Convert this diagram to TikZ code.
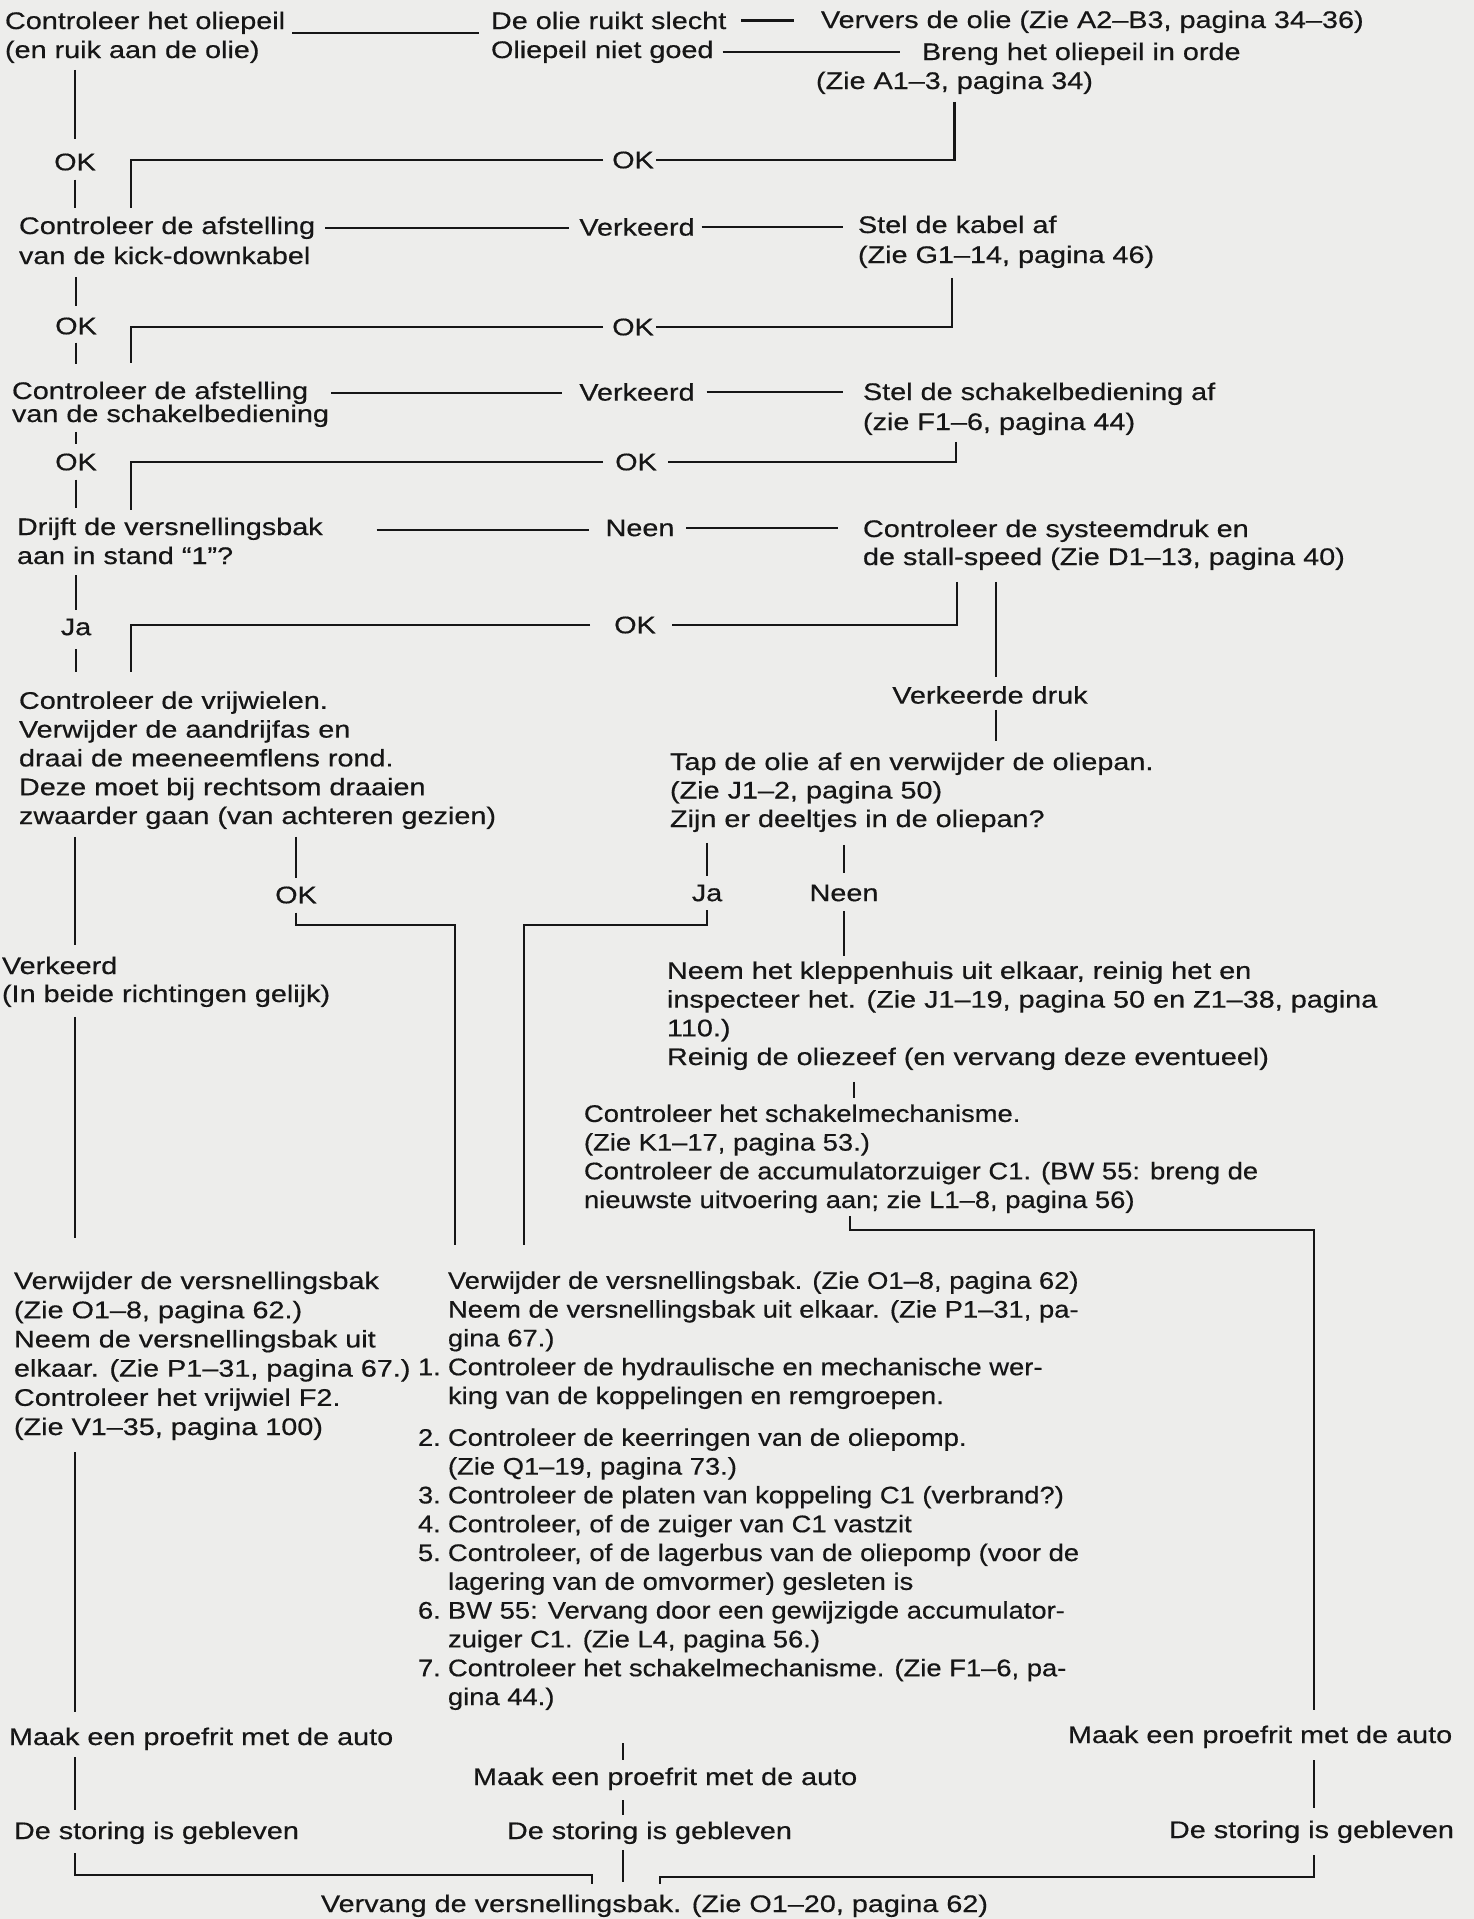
\documentclass[tikz,border=0pt]{standalone}
\usepackage{fontspec}
\setmainfont{Liberation Sans}[FakeStretch=1.2,FakeBold=0.5]
\newfontfamily\condensedfont{Liberation Sans}[FakeStretch=1.14,FakeBold=0.5]
\usetikzlibrary{calc}
\definecolor{paper}{RGB}{237,237,235}
\definecolor{ink}{RGB}{22,22,22}
\tikzset{
  txt/.style={anchor=base west,inner sep=0pt,outer sep=0pt,align=left,text=ink,
    font=\fontsize{12pt}{#1}\selectfont},
  txt/.default=14.5pt,
  ctxt/.style={txt=#1,font=\condensedfont\fontsize{12pt}{#1}\selectfont},
  ctxt/.default=14.4pt,
  lbl/.style={inner sep=0pt,outer sep=0pt,text=ink,font=\fontsize{12pt}{14.5pt}\selectfont},
  ln/.style={draw=ink,line width=1.1pt},
}
\begin{document}
\begin{tikzpicture}[x=0.5pt,y=-0.5pt]
\fill[paper] (0,0) rectangle (1474,1919);
% texts (multi-line nodes sit on their last line)
\node[txt] (peil) at (5,58) {Controleer het oliepeil\\(en ruik aan de olie)};
\node[txt] (ruikt) at (491,29) {De olie ruikt slecht};
\node[txt] (peilng) at (491,58) {Oliepeil niet goed};
\node[txt] (ververs) at (821,28) {Ververs de olie (Zie A2–B3, pagina 34–36)};
\node[txt] (breng) at (922,60) {Breng het oliepeil in orde};
\node[txt] (brengref) at (816,89) {(Zie A1–3, pagina 34)};
\node[lbl] (okA) at (75,162) {OK};
\node[lbl] (ok1) at (633,160) {OK};
\node[txt=15pt] (afst1) at (19,264) {Controleer de afstelling\\van de kick-downkabel};
\node[lbl] (vk1) at (637,227) {Verkeerd};
\node[txt=15pt] (stel1) at (858,263) {Stel de kabel af\\(Zie G1–14, pagina 46)};
\node[lbl] (okB) at (76,326) {OK};
\node[lbl] (ok2) at (633,327) {OK};
\node[txt=11.5pt] (afst2) at (12,422) {Controleer de afstelling\\van de schakelbediening};
\node[lbl] (vk2) at (637,392) {Verkeerd};
\node[txt=15pt] (stel2) at (863,430) {Stel de schakelbediening af\\(zie F1–6, pagina 44)};
\node[lbl] (okC) at (76,462) {OK};
\node[lbl] (ok3) at (636,462) {OK};
\node[txt] (drijft) at (17,564) {Drijft de versnellingsbak\\aan in stand “1”?};
\node[lbl] (nn1) at (640,528) {Neen};
\node[txt=14pt] (sys) at (863,565) {Controleer de systeemdruk en\\de stall-speed (Zie D1–13, pagina 40)};
\node[lbl] (jaA) at (76,627) {Ja};
\node[lbl] (ok4) at (635,625) {OK};
\node[lbl] (vdruk) at (990,695) {Verkeerde druk};
\node[txt=14.4pt] (vrij) at (19,824) {Controleer de vrijwielen.\\Verwijder de aandrijfas en\\draai de meeneemflens rond.\\Deze moet bij rechtsom draaien\\zwaarder gaan (van achteren gezien)};
\node[txt=14.25pt] (tap) at (670,827) {Tap de olie af en verwijder de oliepan.\\(Zie J1–2, pagina 50)\\Zijn er deeltjes in de oliepan?};
\node[lbl] (ok5) at (296,895) {OK};
\node[lbl] (ja2) at (707,893) {Ja};
\node[lbl] (nn2) at (844,893) {Neen};
\node[txt=14pt] (verk) at (2,1002) {Verkeerd\\(In beide richtingen gelijk)};
\node[txt=14.35pt] (klep) at (667,1065) {Neem het kleppenhuis uit elkaar, reinig het en\\inspecteer het. (Zie J1–19, pagina 50 en Z1–38, pagina\\110.)\\Reinig de oliezeef (en vervang deze eventueel)};
\node[ctxt=14.35pt] (schak) at (584,1208) {Controleer het schakelmechanisme.\\(Zie K1–17, pagina 53.)\\Controleer de accumulatorzuiger C1. (BW 55: breng de\\nieuwste uitvoering aan; zie L1–8, pagina 56)};
\node[txt=14.6pt] (verw) at (14,1435) {Verwijder de versnellingsbak\\(Zie O1–8, pagina 62.)\\Neem de versnellingsbak uit\\elkaar. (Zie P1–31, pagina 67.)\\Controleer het vrijwiel F2.\\(Zie V1–35, pagina 100)};
\node[ctxt] (mid) at (418,1705) {%
\hspace*{15pt}Verwijder de versnellingsbak. (Zie O1–8, pagina 62)\\
\hspace*{15pt}Neem de versnellingsbak uit elkaar. (Zie P1–31, pa-\\
\hspace*{15pt}gina 67.)\\
\makebox[15pt][l]{1.}Controleer de hydraulische en mechanische wer-\\
\hspace*{15pt}king van de koppelingen en remgroepen.\\[6.5pt]
\makebox[15pt][l]{2.}Controleer de keerringen van de oliepomp.\\
\hspace*{15pt}(Zie Q1–19, pagina 73.)\\
\makebox[15pt][l]{3.}Controleer de platen van koppeling C1 (verbrand?)\\
\makebox[15pt][l]{4.}Controleer, of de zuiger van C1 vastzit\\
\makebox[15pt][l]{5.}Controleer, of de lagerbus van de oliepomp (voor de\\
\hspace*{15pt}lagering van de omvormer) gesleten is\\
\makebox[15pt][l]{6.}BW 55: Vervang door een gewijzigde accumulator-\\
\hspace*{15pt}zuiger C1. (Zie L4, pagina 56.)\\
\makebox[15pt][l]{7.}Controleer het schakelmechanisme. (Zie F1–6, pa-\\
\hspace*{15pt}gina 44.)};
\node[txt] (proefL) at (9,1745) {Maak een proefrit met de auto};
\node[txt] (storL) at (14,1839) {De storing is gebleven};
\node[txt] (proefM) at (473,1785) {Maak een proefrit met de auto};
\node[txt] (storM) at (507,1839) {De storing is gebleven};
\node[txt] (proefR) at (1068,1743) {Maak een proefrit met de auto};
\node[txt] (storR) at (1169,1838) {De storing is gebleven};
\node[txt] (vervang) at (321,1912) {Vervang de versnellingsbak. (Zie O1–20, pagina 62)};
% top row
\coordinate (j1) at ($(peil.north east)+(7,21.5)$);
\draw[ln,shorten >=6pt] (j1) -- (j1 -| ruikt.west);
\draw[ln,shorten <=7.5pt,shorten >=13.5pt] (ruikt.east) -- (ruikt.east -| ververs.west);
\draw[ln,shorten <=4.5pt,shorten >=11pt] (peilng.east) -- (peilng.east -| breng.west);
\draw[ln,shorten <=4pt,shorten >=1pt] (brengref.south) |- (ok1.east);
\draw[ln,shorten <=4.5pt] (ok1.west) -| ($(afst1.north west)+(112,-8.5)$);
% left trunk
\draw[ln,shorten <=3.5pt,shorten >=7.5pt] (okA.north |- peil.south) -- (okA.north);
\draw[ln,shorten <=4.5pt,shorten >=4.5pt] (okA.south) -- (okA.south |- afst1.north);
\draw[ln,shorten <=6.5pt,shorten >=6pt] (okB.north |- afst1.south) -- (okB.north);
\draw[ln,shorten <=4pt,shorten >=9pt] (okB.south) -- (okB.south |- afst2.north);
\draw[ln,shorten <=2.5pt,shorten >=5pt] (okC.north |- afst2.south) -- (okC.north);
\draw[ln,shorten <=4.5pt,shorten >=4.75pt] (okC.south) -- (okC.south |- drijft.north);
\draw[ln,shorten <=5.5pt,shorten >=4.2pt] (jaA.north |- drijft.south) -- (jaA.north);
\draw[ln,shorten <=7pt,shorten >=9.75pt] (jaA.south) -- (jaA.south |- vrij.north);
\draw[ln,shorten <=4pt,shorten >=5.75pt] (okA.south |- vrij.south) -- (okA.south |- verk.north);
\draw[ln,shorten <=5pt,shorten >=16.75pt] (okA.south |- verk.south) -- (okA.south |- verw.north);
\draw[ln,shorten <=6pt,shorten >=7.75pt] (okA.south |- verw.south) -- (okA.south |- proefL.north);
\draw[ln,shorten <=3.5pt,shorten >=5.75pt] (okA.south |- proefL.south) -- (okA.south |- storL.north);
\draw[ln,shorten <=4.5pt] (okA.south |- storL.south) |- ($(vervang.north west)+(271,-19.5)$) -- ($(vervang.north west)+(271,-10.5)$);
% kick-down row
\coordinate (j2) at ($(afst1.north east)+(10,11.5)$);
\draw[ln,shorten >=5pt] (j2) -- (j2 -| vk1.west);
\draw[ln,shorten <=3.5pt,shorten >=7.5pt] (vk1.east) -- (vk1.east -| stel1.west);
\coordinate (j3) at ($(stel1.south west)+(94,10)$);
\draw[ln,shorten >=1pt] (j3) |- (ok2.east);
\draw[ln,shorten <=4.5pt] (ok2.west) -| ($(afst2.north west)+(119,-18.5)$);
% schakelbediening row
\coordinate (j4) at ($(afst2.north east)+(2,11.5)$);
\draw[ln,shorten >=8.5pt] (j4) -- (j4 -| vk2.west);
\draw[ln,shorten <=6pt,shorten >=10pt] (vk2.east) -- (vk2.east -| stel2.west);
\coordinate (j5) at ($(stel2.south west)+(93,7)$);
\draw[ln,shorten >=5.5pt] (j5) |- (ok3.east);
\draw[ln,shorten <=6pt] (ok3.west) -| ($(drijft.north west)+(114,-7.5)$);
% stand 1 row
\coordinate (j6) at ($(drijft.north east)+(54,12.5)$);
\draw[ln,shorten >=8.5pt] (j6) -- (j6 -| nn1.west);
\draw[ln,shorten <=6pt,shorten >=12.5pt] (nn1.east) -- (nn1.east -| sys.west);
\coordinate (j7) at ($(sys.south west)+(94,12)$);
\draw[ln,shorten >=8pt] (j7) |- (ok4.east);
\draw[ln,shorten <=12pt] (ok4.west) -| ($(vrij.north west)+(112,-19.5)$);
\coordinate (j8) at ($(sys.south west)+(133,12)$);
\draw[ln,shorten >=4.5pt] (j8) -- (j8 |- vdruk.north);
\draw[ln,shorten <=3pt,shorten >=6pt] (j8 |- vdruk.south) -- (j8 |- tap.north);
% middle part
\draw[ln,shorten <=4pt,shorten >=4.5pt] (ok5.north |- vrij.south) -- (ok5.north);
\coordinate (j9) at ($(mid.north west)+(37,-346.5)$);
\draw[ln,shorten <=4.5pt,shorten >=13pt] (ok5.south) |- (j9) -- (j9 |- mid.north);
\draw[ln,shorten <=5.5pt,shorten >=4.5pt] (ja2.north |- tap.south) -- (ja2.north);
\coordinate (j10) at ($(mid.north west)+(106,-346.5)$);
\draw[ln,shorten <=4.5pt,shorten >=13pt] (ja2.south) |- (j10) -- (j10 |- mid.north);
\draw[ln,shorten <=6.5pt,shorten >=5.7pt] (nn2.north |- tap.south) -- (nn2.north);
\draw[ln,shorten <=5pt,shorten >=3pt] (nn2.south) -- (nn2.south |- klep.north);
\coordinate (j11) at ($(klep.south west)+(187,0)$);
\draw[ln,shorten <=6pt,shorten >=3.25pt] (j11) -- (j11 |- schak.north);
\coordinate (j12) at ($(schak.south west)+(266,0)$);
\coordinate (j13) at ($(proefR.north east)+(-138,-495.5)$);
\draw[ln,shorten <=1.5pt,shorten >=7.75pt] (j12) |- (j13) -- (j13 |- proefR.north);
\draw[ln,shorten <=6pt,shorten >=6.25pt] (j13 |- proefR.south) -- (j13 |- storR.north);
\draw[ln,shorten <=6pt] (j13 |- storR.south) |- ($(vervang.north west)+(339,-17.5)$) -- ($(vervang.north west)+(339,-10.5)$);
% bottom middle
\coordinate (j14) at ($(proefM.north west)+(150,0)$);
\draw[ln,shorten <=16.5pt,shorten >=3.75pt] (j14 |- mid.south) -- (j14);
\draw[ln,shorten <=5pt,shorten >=3.25pt] (j14 |- proefM.south) -- (j14 |- storM.north);
\draw[ln,shorten <=3pt,shorten >=6.25pt] (j14 |- storM.south) -- (j14 |- vervang.north);
\end{tikzpicture}
\end{document}
